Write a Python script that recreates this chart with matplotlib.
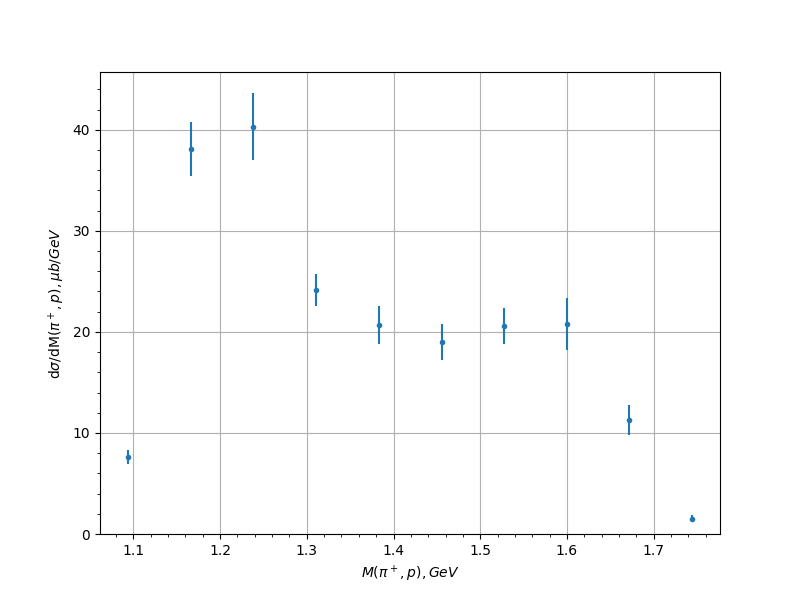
import matplotlib
matplotlib.use("Agg")
import matplotlib.pyplot as plt

mass = [1.094, 1.1665, 1.238, 1.3105, 1.3835, 1.4555, 1.5275, 1.600, 1.6715, 1.744]
xsec = [7.62, 38.1, 40.3, 24.16, 20.7, 19.0, 20.6, 20.8, 11.3, 1.5]
err = [0.7, 2.65, 3.3, 1.55, 1.9, 1.8, 1.75, 2.6, 1.5, 0.35]

fig, ax = plt.subplots(figsize=(8, 6), dpi=100)
ax.errorbar(mass, xsec, yerr=err, fmt='.', color='C0')
ax.set_ylim(bottom=0)
ax.minorticks_on()
ax.grid(True, which='major')
ax.set_xlabel(r'$M(\pi^+, p), GeV$')
ax.set_ylabel(r'd$\sigma$/dM$(\pi^+, p), \mu b/GeV$')
fig.savefig('out.png')
